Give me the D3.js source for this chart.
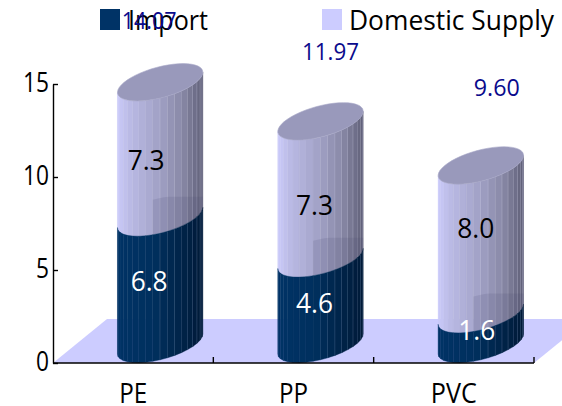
<!DOCTYPE html>
<html><head><meta charset="utf-8">
<script src="https://cdn.jsdelivr.net/npm/d3@7"></script>
<style>html,body{margin:0;padding:0;background:#fff;overflow:hidden}svg{display:block}text{font-family:"Open Sans",sans-serif}</style>
</head><body><div id="c"></div>
<script>
const categories = ["PE","PP","PVC"];
const importValues = [6.8,4.6,1.6];
const domesticValues = [7.3,7.3,8.0];
const totalLabels = ["14.07","11.97","9.60"];
const totalValues = [14.07,11.97,9.60];
const seriesNames = ["Import","Domestic Supply"];
const yTicks = [0,5,10,15];

const W=562,H=406;
const svg=d3.select("#c").append("svg").attr("width",W).attr("height",H);
const y=d3.scaleLinear().domain([0,15]).range([363,84]);
const x=d3.scaleBand().domain(categories).range([53,534]);

// floor
const depthX=54, depthY=44;
svg.append("path").attr("fill","#ccccff")
 .attr("d",d3.line()([[x.range()[0],y(0)],[x.range()[0]+depthX,y(0)-depthY],[x.range()[1]+depthX,y(0)-depthY],[x.range()[1],y(0)]])+"Z");

// cylinder geometry (oblique projection following the floor)
const wx=36,dy=18.7,dx=dy*depthX/depthY;
const t0=-Math.PI+Math.atan2(dx,wx);
const N=18;
const strips=d3.range(N+1).map(i=>t0+Math.PI*i/N);
const ex=(c,t)=>c+wx*Math.cos(t)+dx*Math.sin(t);
const ey=(c,t)=>c-dy*Math.sin(t);
const lightC=d3.scaleLinear().domain([0,.12,.42,.75,1]).range(["#cbcbfb","#bcbce8","#a6a6cc","#8a8aa8","#606078"]);
const darkC=d3.scaleLinear().domain([0,.42,1]).range(["#003366","#00305e","#001a38"]);
const cylLift=19, shiftX=27;

function segment(g,c,yLow,yHigh,col,lineCol,lineOp){
  const xl=ex(c,strips[0]),xr=ex(c,strips[N]),w=xr-xl;
  for(let i=0;i<N;i++){
    const a=strips[i],b=strips[i+1],xa=ex(c,a),xb=ex(c,b);
    const f=((xa+xb)/2-xl)/w;
    g.append("path").attr("fill",col(f)).attr("stroke",col(f)).attr("stroke-width",.4)
     .attr("d",d3.line()([[xa,ey(yHigh,a)],[xb,ey(yHigh,b)],[xb,ey(yLow,b)],[xa,ey(yLow,a)]])+"Z");
    if(f>.41&&i<N-1){
      g.append("line").attr("x1",xb).attr("x2",xb).attr("y1",ey(yHigh,b)).attr("y2",ey(yLow,b))
       .attr("stroke",lineCol).attr("stroke-opacity",lineOp).attr("stroke-width",1);
    }
  }
}

categories.forEach((cat,i)=>{
  const c=x(cat)+x.bandwidth()/2+shiftX;
  const g=svg.append("g");
  const y0=y(0)-cylLift, y1=y(importValues[i])-cylLift, y2=y(totalValues[i])-cylLift;
  segment(g,c,y1,y2,lightC,"#d4d4ea",.55);
  // shaded back rim of the lower segment, showing through the upper one
  const rim=strips.filter(t=>(ex(c,t)-ex(c,strips[0]))/(ex(c,strips[N])-ex(c,strips[0]))>.4);
  const rimTop=y1-dy-2;
  g.append("path").attr("fill","#3a3a66").attr("fill-opacity",.13)
   .attr("d",d3.line().curve(d3.curveMonotoneX)([[ex(c,rim[0]),rimTop+3],[c+10,rimTop],[ex(c,rim[rim.length-1]),rimTop]])
      +d3.line()(rim.slice().reverse().map(t=>[ex(c,t),ey(y1,t)])).replace(/^M/,"L")+"Z");
  segment(g,c,y0,y1,darkC,"#6d8cae",.6);
  // top cap
  g.append("path").attr("fill","#9999bb")
   .attr("stroke","#a8a8c8").attr("stroke-width",.6)
   .attr("d",d3.line().curve(d3.curveLinearClosed)(d3.range(0,Math.PI*2,Math.PI/24).map(t=>[ex(c,t),ey(y2,t)])));
});

const fit=(sel,len)=>sel.attr("textLength",len).attr("lengthAdjust","spacingAndGlyphs");

// axes
const yAxis=d3.axisLeft(y).tickValues(yTicks).tickSize(-5).tickPadding(4).tickSizeOuter(0);
const ya=svg.append("g").attr("transform",`translate(${x.range()[0]},0)`).call(yAxis);
ya.selectAll("text").attr("font-size",28).attr("fill","#000").attr("dy","0.27em").each(function(d){fit(d3.select(this),d>=10?26:13)});
ya.selectAll("path,line").attr("stroke","#000").attr("stroke-width",1.4);

const catWidths=[28,29,46];
const xAxisG=svg.append("g");
xAxisG.append("line").attr("x1",x.range()[0]).attr("x2",x.range()[1]).attr("y1",y(0)).attr("y2",y(0)).attr("stroke","#000").attr("stroke-width",1.4);
categories.forEach((cat,i)=>{
  const xe=x(cat)+x.bandwidth();
  xAxisG.append("line").attr("x1",xe).attr("x2",xe).attr("y1",y(0)).attr("y2",y(0)-6).attr("stroke","#000").attr("stroke-width",1.4);
  fit(xAxisG.append("text").attr("x",x(cat)+x.bandwidth()/2).attr("y",y(0)+40).attr("text-anchor","middle").attr("font-size",27).attr("fill","#000").text(cat),catWidths[i]);
});

// data labels
const lab=(tx,ty,t,fill,size,len)=>fit(svg.append("text").attr("x",tx).attr("y",ty).attr("text-anchor","middle").attr("font-size",size).attr("fill",fill).text(t),len);
const impDX=[-11,-6,-4], impDY=[10,12,11];
const domDX=[-14,-6,-5], domDY=[20,24,-2];
categories.forEach((cat,i)=>{
  const c=x(cat)+x.bandwidth()/2+shiftX;
  const midI=y(importValues[i]/2)-cylLift, midD=y(importValues[i]+domesticValues[i]/2)-cylLift;
  lab(c+impDX[i],midI+impDY[i],importValues[i].toFixed(1),"#fff",28,37);
  lab(c+domDX[i],midD+domDY[i],domesticValues[i].toFixed(1),"#000",28,37);
});
const totalDX=[-11,10,16], totalLift=[72,80,88], totalWidths=[55,57,46];
categories.forEach((cat,i)=>{
  const c=x(cat)+x.bandwidth()/2+shiftX;
  lab(c+totalDX[i],y(totalValues[i])-totalLift[i],totalLabels[i],"#0a0a8c",24,totalWidths[i]);
});

// legend
const legX=[100,322], legColors=["#003366","#ccccff"], legTextX=[128,349], legWidths=[80,205];
seriesNames.forEach((s,i)=>{
  svg.append("rect").attr("x",legX[i]).attr("y",9).attr("width",20).attr("height",21).attr("fill",legColors[i]);
  fit(svg.append("text").attr("x",legTextX[i]).attr("y",30).attr("font-size",27).attr("fill","#000").text(s),legWidths[i]);
});
svg.selectAll("text").filter(function(){return this.textContent==="14.07"}).raise();
</script></body></html>
